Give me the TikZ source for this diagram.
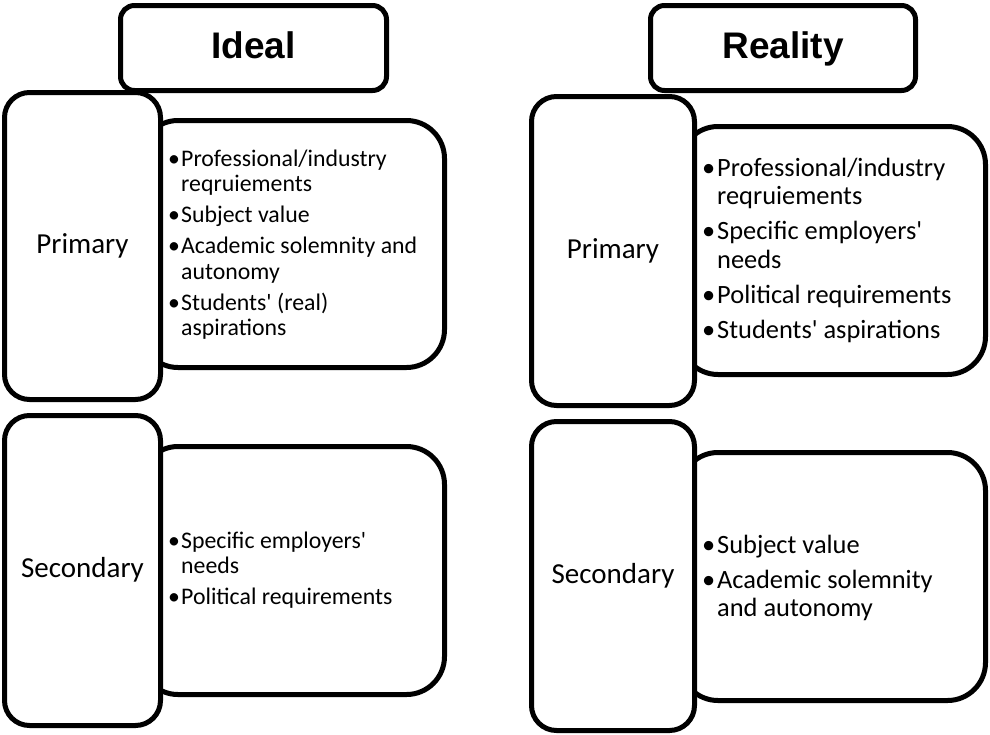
\documentclass[tikz,border=0pt]{standalone}
\usepackage{fontspec}
\newfontfamily\bodyfont{Carlito}
\newfontfamily\titlefont{Liberation Sans}
\newlength{\bhang}
\newcommand{\itm}[1]{\par\hangindent=\bhang\hangafter=1\noindent\makebox[\bhang][l]{\hspace{1pt}•}#1}
\newcommand{\leftlist}{\bodyfont\fontsize{23.8pt}{25.5pt}\selectfont\setlength{\parskip}{5.5pt}\setlength{\bhang}{14pt}}
\newcommand{\rightlist}{\bodyfont\fontsize{26.4pt}{28.5pt}\selectfont\setlength{\parskip}{6.5pt}\setlength{\bhang}{16pt}}
\begin{document}
\begin{tikzpicture}[x=1pt,y=-1pt]
\tikzset{
  frame/.style={draw=black, line width=5pt, fill=white, inner sep=0pt, outer sep=0pt},
  titlebox/.style={frame, rounded corners=14pt, font=\titlefont\bfseries\fontsize{37pt}{40pt}\selectfont, text height=26pt, text depth=6pt},
  labelbox/.style={frame, rounded corners=25pt, font=\bodyfont\fontsize{29pt}{32pt}\selectfont, text height=20pt, text depth=6pt},
  contentbox/.style={frame, rounded corners=38pt},
  listtext/.style={anchor=base west, inner sep=0pt}
}
\useasboundingbox (0,0) rectangle (990,734);
% content boxes
\node[contentbox, minimum width=304.5pt, minimum height=247pt] (lpc) at (292.25,244) {};
\node[contentbox, minimum width=304.5pt, minimum height=248pt] (lsc) at (292.25,570.5) {};
\node[contentbox, minimum width=305.5pt, minimum height=248pt] (rpc) at (832.75,250.5) {};
\node[contentbox, minimum width=305.5pt, minimum height=248pt] (rsc) at (832.75,576.5) {};
% titles
\node[titlebox, minimum width=266pt, minimum height=85pt] (ideal) at (253.5,48) {Ideal};
\node[titlebox, minimum width=265pt, minimum height=85pt] (reality) at (783,48) {Reality};
% label boxes
\node[labelbox, minimum width=156pt, minimum height=307pt] (lp) at (82.5,246) {Primary};
\node[labelbox, minimum width=156pt, minimum height=310pt] (ls) at (82.5,570.5) {Secondary};
\node[labelbox, minimum width=163pt, minimum height=309pt] (rp) at (613,251) {Primary};
\node[labelbox, minimum width=163pt, minimum height=309pt] (rs) at (613,576) {Secondary};
% list texts
\node[listtext] (lpt) at (167,166) {\parbox[t]{280pt}{\leftlist
\itm{Professional/industry\newline reqruiements}
\itm{Subject value}
\itm{Academic solemnity and\newline autonomy}
\itm{Students' (real)\newline aspirations}}};
\node[listtext] (lst) at (167,548) {\parbox[t]{280pt}{\leftlist
\itm{Specific employers'\newline needs}
\itm{Political requirements}}};
\node[listtext] (rpt) at (701,176) {\parbox[t]{280pt}{\rightlist
\itm{Professional/industry\newline reqruiements}
\itm{Specific employers'\newline needs}
\itm{Political requirements}
\itm{Students' aspirations}}};
\node[listtext] (rst) at (701,553) {\parbox[t]{280pt}{\rightlist
\itm{Subject value}
\itm{Academic solemnity\newline and autonomy}}};
\end{tikzpicture}
\end{document}
